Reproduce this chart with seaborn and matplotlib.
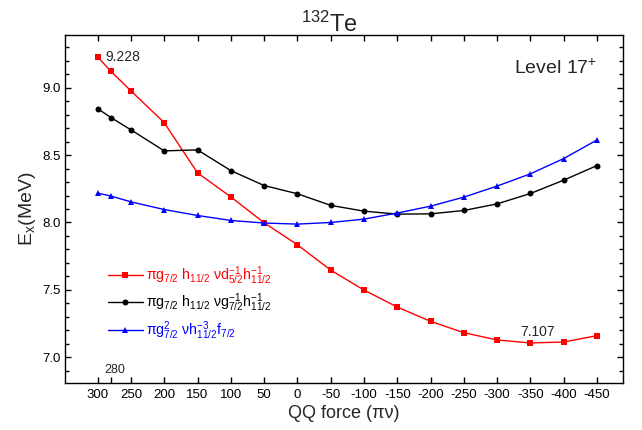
import numpy as np
import pandas as pd
import matplotlib
matplotlib.use("Agg")
import matplotlib.pyplot as plt
from matplotlib.lines import Line2D
from matplotlib.ticker import MultipleLocator, FixedLocator
import seaborn as sns

# ---------------- data ----------------
qq_force = [300, 280, 250, 200, 150, 100, 50, 0, -50, -100, -150, -200, -250, -300, -350, -400, -450]
e_red = [9.228, 9.12, 8.976, 8.74, 8.368, 8.19, 7.998, 7.835, 7.647, 7.499, 7.373, 7.267, 7.183, 7.129, 7.107, 7.114, 7.161]
e_black = [8.844, 8.778, 8.687, 8.531, 8.538, 8.385, 8.274, 8.213, 8.127, 8.084, 8.062, 8.064, 8.089, 8.138, 8.215, 8.314, 8.422]
e_blue = [8.218, 8.196, 8.153, 8.096, 8.052, 8.015, 7.996, 7.988, 8.0, 8.025, 8.07, 8.121, 8.188, 8.27, 8.361, 8.474, 8.612]

labels = [
    r'πg$_{7/2}$ h$_{11/2}$ νd$^{-1}_{5/2}$h$^{-1}_{11/2}$',
    r'πg$_{7/2}$ h$_{11/2}$ νg$^{-1}_{7/2}$h$^{-1}_{11/2}$',
    r'πg$^{2}_{7/2}$ νh$^{-3}_{11/2}$f$_{7/2}$',
]
x_ticks = [300, 250, 200, 150, 100, 50, 0, -50, -100, -150, -200, -250, -300, -350, -400, -450]
x_tick_labels = [str(v) for v in x_ticks]
y_ticks = [7.0, 7.5, 8.0, 8.5, 9.0]

colors = ['#FF0000', '#000000', '#0000FF']
marker_list = ['s', 'o', '^']
marker_sizes = [4.2, 4.3, 4.8]

# ---------------- style ----------------
sns.set_theme(style='ticks')
plt.rcParams['font.family'] = ['Liberation Sans', 'DejaVu Sans']
plt.rcParams['mathtext.fontset'] = 'custom'
plt.rcParams['mathtext.rm'] = 'Liberation Sans'
plt.rcParams['mathtext.it'] = 'Liberation Sans:italic'
plt.rcParams['mathtext.default'] = 'regular'
plt.rcParams['axes.unicode_minus'] = False

fig = plt.figure(figsize=(6.42, 4.30), dpi=100)
ax = fig.add_axes([65 / 642, 47 / 430, 558 / 642, 348 / 430])

for vals, lab, c, m, ms in zip([e_red, e_black, e_blue], labels, colors, marker_list, marker_sizes):
    d = pd.DataFrame({'force': qq_force, 'E': vals})
    sns.lineplot(data=d, x='force', y='E', color=c, marker=m,
                 markersize=ms, markeredgewidth=0, linewidth=1.0,
                 legend=False, ax=ax)

ax.set_xlim(349, -489)
ax.set_ylim(6.81, 9.39)
ax.set_xticks(x_ticks)
ax.set_xticklabels(x_tick_labels)
ax.xaxis.set_minor_locator(FixedLocator([280]))
ax.set_yticks(y_ticks)
ax.set_yticklabels([f'{v:.1f}' for v in y_ticks])
ax.yaxis.set_minor_locator(MultipleLocator(0.1))

ax.tick_params(which='both', direction='in', top=True, right=True, width=1.0,
               labelsize=9.5, colors='black')
ax.tick_params(which='major', length=4)
ax.tick_params(which='minor', length=3)
ax.tick_params(axis='x', which='minor', top=False, length=4)
ax.tick_params(axis='x', pad=4.5)
ax.tick_params(axis='y', pad=3)
for sp in ax.spines.values():
    sp.set_linewidth(1.0)
    sp.set_color('black')

ax.set_xlabel('QQ force (πν)', fontsize=13, labelpad=3)
ax.set_ylabel('E$_x$(MeV)', fontsize=14, labelpad=3)

ax.text(288, 9.228, '9.228', ha='left', va='center', fontsize=10)
ax.text(-361, 7.185, '7.107', ha='center', va='center', fontsize=10)
ax.text(275, 6.909, '280', ha='center', va='center', fontsize=9)
ax.text(0.953, 0.888, 'Level 17$^{+}$', transform=ax.transAxes,
        ha='right', va='baseline', fontsize=14)
fig.text(329 / 642, 1 - 32 / 430, '$^{132}$Te', ha='center', va='baseline', fontsize=17)

handles = [Line2D([0], [0], color=c, marker=m, markersize=ms, markeredgewidth=0, lw=1.0)
           for c, m, ms in zip(colors, marker_list, marker_sizes)]
ax.legend(handles, labels, loc='upper left', bbox_to_anchor=(0.077, 0.342),
          frameon=False, fontsize=10.2, handlelength=2.45, handletextpad=0.25,
          labelspacing=0.36, borderpad=0, borderaxespad=0, labelcolor=colors)

fig.savefig('out.png', dpi=100)
